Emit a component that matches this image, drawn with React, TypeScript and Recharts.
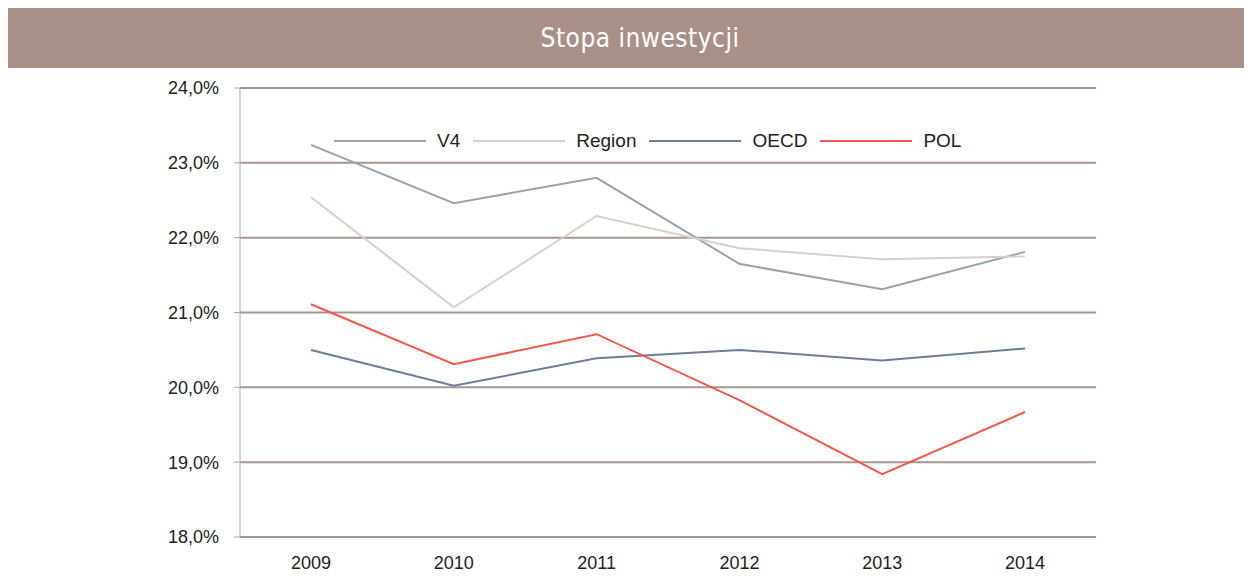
import { LineChart, Line, XAxis, YAxis, CartesianGrid } from 'recharts';

const years = ['2009', '2010', '2011', '2012', '2013', '2014'];
const v4 = [23.24, 22.46, 22.8, 21.65, 21.31, 21.81];
const region = [22.54, 21.07, 22.29, 21.86, 21.71, 21.75];
const oecd = [20.5, 20.02, 20.39, 20.5, 20.36, 20.52];
const pol = [21.11, 20.31, 20.71, 19.83, 18.84, 19.67];
const yTicks = [18, 19, 20, 21, 22, 23, 24];

const data = years.map((year, i) => ({
  year,
  V4: v4[i],
  Region: region[i],
  OECD: oecd[i],
  POL: pol[i],
}));

const seriesList = [
  { key: 'V4', color: '#9aa3a8' },
  { key: 'Region', color: '#d8cfcc' },
  { key: 'OECD', color: '#6e7d98' },
  { key: 'POL', color: '#f0584a' },
];

const fmt = (v: number) => `${v.toFixed(1).replace('.', ',')}%`;
const font = '"Liberation Sans", Arial, sans-serif';

export default function App() {
  return (
    <div style={{ width: 1244, background: '#fff' }}>
      <div
        style={{
          height: 60,
          background: '#a89089',
          color: '#fff',
          display: 'flex',
          alignItems: 'center',
          justifyContent: 'center',
          paddingLeft: 20,
          boxSizing: 'border-box',
          fontFamily: '"DejaVu Sans Condensed", "DejaVu Sans", sans-serif',
          fontSize: 26,
          letterSpacing: 0.5,
        }}
      >
        Stopa inwestycji
      </div>
      <div style={{ position: 'relative', width: 1244, height: 508 }}>
        <LineChart width={1244} height={508} data={data} margin={{ top: 20, right: 156, left: 172, bottom: 9 }}>
          <CartesianGrid vertical={false} stroke="#a8958f" strokeWidth={2} />
          <XAxis
            dataKey="year"
            height={30}
            padding={{ left: 71, right: 71 }}
            axisLine={{ stroke: '#a8958f', strokeWidth: 2 }}
            tickLine={false}
            tick={{ fill: '#222', fontSize: 18, fontFamily: font }}
            dy={11}
          />
          <YAxis
            width={60}
            domain={[18, 24]}
            ticks={yTicks}
            tickFormatter={fmt}
            axisLine={{ stroke: '#a8a8a8', strokeWidth: 1 }}
            tickLine={{ stroke: '#a8a8a8' }}
            tickSize={6}
            tick={{ fill: '#222', fontSize: 18, fontFamily: font }}
            dx={-13}
          />
          {seriesList.map((s) => (
            <Line
              key={s.key}
              type="linear"
              dataKey={s.key}
              stroke={s.color}
              strokeWidth={2}
              dot={false}
              activeDot={false}
              isAnimationActive={false}
            />
          ))}
        </LineChart>
        <div
          style={{
            position: 'absolute',
            top: 62,
            left: 326,
            display: 'flex',
            alignItems: 'center',
            fontFamily: font,
            fontSize: 19,
            color: '#222',
          }}
        >
          {seriesList.map((s) => (
            <div key={s.key} style={{ display: 'flex', alignItems: 'center', marginRight: 13 }}>
              <div style={{ width: 92, height: 2, background: s.color, marginRight: 11 }} />
              <span>{s.key}</span>
            </div>
          ))}
        </div>
      </div>
    </div>
  );
}
